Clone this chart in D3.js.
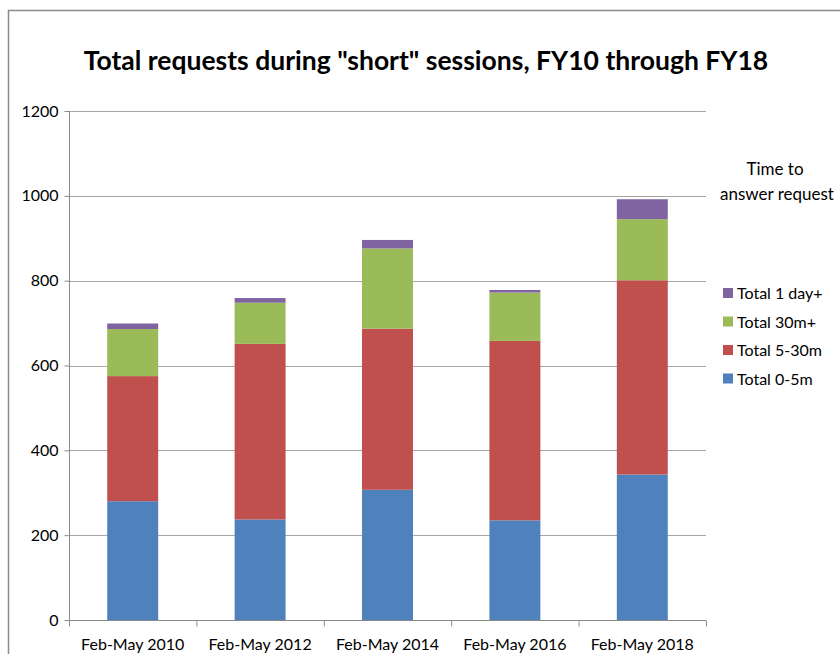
<!DOCTYPE html>
<html>
<head>
<meta charset="utf-8">
<script src="https://cdn.jsdelivr.net/npm/d3@7"></script>
<style>
  body { margin: 0; background: #fff; }
  svg { display: block; font-family: Lato, "Open Sans", sans-serif; }
</style>
</head>
<body>
<svg width="840" height="654"></svg>
<script>
// values
var categories = ["Feb-May 2010", "Feb-May 2012", "Feb-May 2014", "Feb-May 2016", "Feb-May 2018"];
var seriesNames = ["Total 0-5m", "Total 5-30m", "Total 30m+", "Total 1 day+"];
var total0to5 = [280, 237, 307, 235, 343];
var total5to30 = [295, 414, 380, 423, 458];
var total30plus = [111, 97, 189, 114, 144];
var total1day = [13, 11, 20, 6, 47];
var yTicks = [0, 200, 400, 600, 800, 1000, 1200];
var colors = ["#4F81BD", "#C0504D", "#9BBB59", "#8064A2"];

var svg = d3.select("svg");

// chart border (runs off the right and bottom edges)
svg.append("rect")
    .attr("x", 8.5).attr("y", 10.5)
    .attr("width", 900).attr("height", 700)
    .attr("fill", "none")
    .attr("stroke", "#8a8a8a")
    .attr("stroke-width", 1.5);

var plotLeft = 69, plotRight = 706, plotTop = 111, plotBottom = 620;

var x = d3.scaleBand()
    .domain(categories)
    .range([plotLeft, plotRight])
    .paddingInner(0.6)
    .paddingOuter(0.3);

var y = d3.scaleLinear()
    .domain([0, 1200])
    .range([plotBottom, plotTop]);

var rows = categories.map(function (c, i) {
    return {
        cat: c,
        "Total 0-5m": total0to5[i],
        "Total 5-30m": total5to30[i],
        "Total 30m+": total30plus[i],
        "Total 1 day+": total1day[i]
    };
});
var stacked = d3.stack().keys(seriesNames)(rows);

// gridlines
svg.append("g")
    .selectAll("line")
    .data(yTicks.slice(1))
    .enter().append("line")
    .attr("x1", plotLeft).attr("x2", plotRight)
    .attr("y1", function (d) { return Math.round(y(d)) + 0.5; })
    .attr("y2", function (d) { return Math.round(y(d)) + 0.5; })
    .attr("stroke", "#a6a6a6");

// bars
svg.append("g")
    .selectAll("g")
    .data(stacked)
    .enter().append("g")
    .attr("fill", function (d, i) { return colors[i]; })
    .selectAll("rect")
    .data(function (d) { return d; })
    .enter().append("rect")
    .attr("x", function (d) { return x(d.data.cat); })
    .attr("width", x.bandwidth())
    .attr("y", function (d) { return y(d[1]); })
    .attr("height", function (d) { return y(d[0]) - y(d[1]); });

// y axis
var yAxis = svg.append("g")
    .attr("transform", "translate(" + (plotLeft + 0.5) + ",0)")
    .call(d3.axisLeft(y).tickValues(yTicks).tickSize(5).tickPadding(6).tickFormat(d3.format("d")));
yAxis.select(".domain").attr("stroke", "#8a8a8a").attr("d", "M0," + plotTop + "V" + plotBottom);
yAxis.selectAll(".tick line").attr("stroke", "#8a8a8a");
yAxis.selectAll("text")
    .attr("font-family", "Lato, sans-serif")
    .attr("font-size", 16)
    .attr("fill", "#000");

// x axis
var xAxis = svg.append("g")
    .attr("transform", "translate(0," + (plotBottom + 0.5) + ")")
    .call(d3.axisBottom(x).tickSize(0).tickPadding(18));
xAxis.select(".domain").attr("stroke", "#8a8a8a").attr("d", "M" + plotLeft + ",0H" + plotRight);
xAxis.selectAll("text")
    .attr("font-family", "Lato, sans-serif")
    .attr("font-size", 16)
    .attr("fill", "#000");
// category separators
var step = x.step();
xAxis.append("g")
    .selectAll("line")
    .data(d3.range(categories.length + 1))
    .enter().append("line")
    .attr("x1", function (i) { return plotLeft + i * step + 0.5; })
    .attr("x2", function (i) { return plotLeft + i * step + 0.5; })
    .attr("y1", 0).attr("y2", 6)
    .attr("stroke", "#8a8a8a");

// title
svg.append("text")
    .attr("x", 426).attr("y", 70)
    .attr("text-anchor", "middle")
    .attr("font-family", "Lato, sans-serif")
    .attr("font-weight", "bold")
    .attr("font-size", 26.5)
    .text('Total requests during "short" sessions, FY10 through FY18');

// legend title
svg.append("text")
    .attr("x", 775).attr("y", 175)
    .attr("text-anchor", "middle")
    .attr("font-size", 17)
    .text("Time to");
svg.append("text")
    .attr("x", 777).attr("y", 200)
    .attr("text-anchor", "middle")
    .attr("font-size", 17)
    .text("answer request");

// legend (reverse order, top item is last series)
var legend = svg.append("g")
    .selectAll("g")
    .data(seriesNames.slice().reverse())
    .enter().append("g")
    .attr("transform", function (d, i) { return "translate(723," + (293 + i * 28.5) + ")"; });
legend.append("rect")
    .attr("x", 0).attr("y", -5)
    .attr("width", 10).attr("height", 10)
    .attr("fill", function (d) { return colors[seriesNames.indexOf(d)]; });
legend.append("text")
    .attr("x", 14).attr("y", 6)
    .attr("font-size", 16)
    .text(function (d) { return d; });
</script>
</body>
</html>
